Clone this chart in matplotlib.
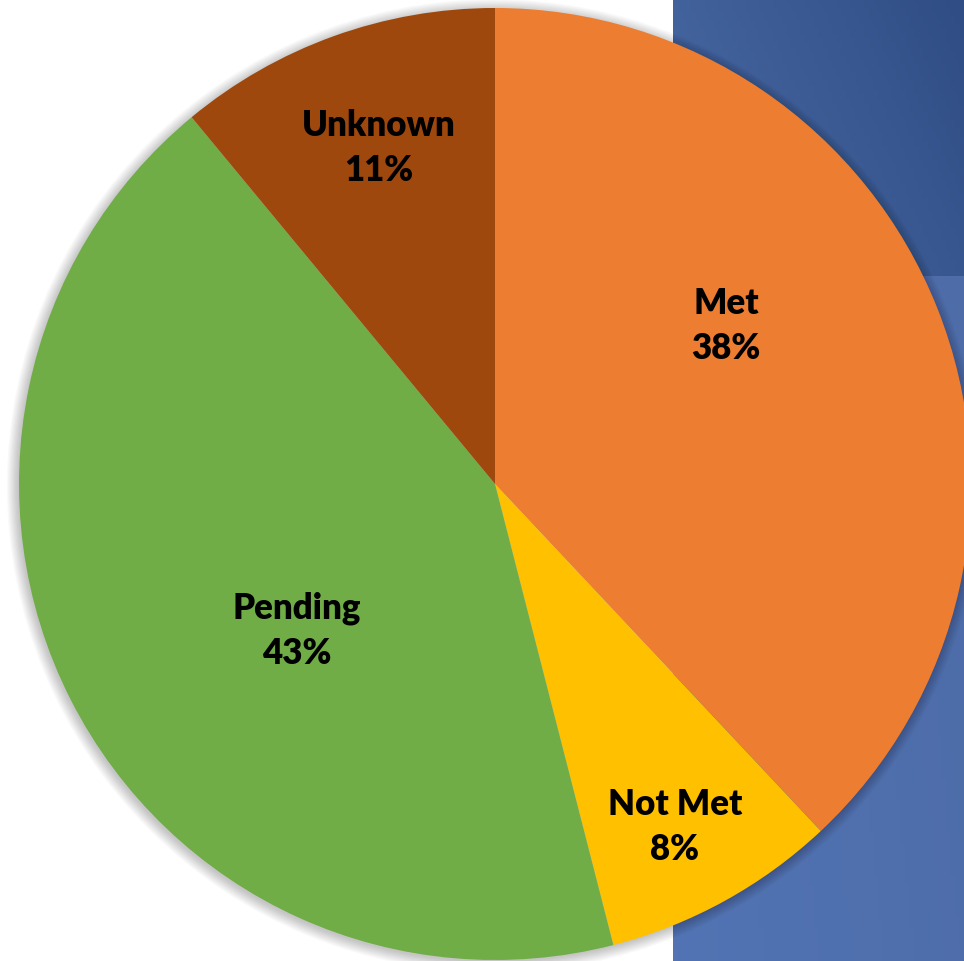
import numpy as np
import matplotlib.pyplot as plt
from matplotlib.patches import Circle

labels = ['Met', 'Not Met', 'Pending', 'Unknown']
shares = [38, 8, 43, 11]
colors = ['#ED7D31', '#FFC000', '#70AD47', '#9E480E']

# label spots (fraction of radius, x/y)
label_pos = [(0.485, 0.334), (0.378, -0.718), (-0.416, -0.307), (-0.244, 0.708)]

W, H = 964, 962
cx, cy, R = 495, 485, 476

fig = plt.figure(figsize=(W / 100, H / 100), dpi=100)
ax = fig.add_axes([0, 0, 1, 1])
ax.set_xlim(-cx / R, (W - cx) / R)
ax.set_ylim(-(H - cy) / R, cy / R)
ax.set_aspect('equal')
ax.axis('off')

# blue background blocks on the right
x0 = (673 - cx) / R
xr = (W - cx) / R
ytop = cy / R
ysplit = (cy - 277) / R
ybot = -(H - cy) / R
gx = np.linspace(0, 1, 64)
gy = np.linspace(0, 1, 64)
GX, GY = np.meshgrid(gx, gy)
top_c0 = np.array([0x4a, 0x6b, 0xa6]) / 255
top_c1 = np.array([0x30, 0x4d, 0x85]) / 255
t = np.clip(0.7 * GX + 0.3 * (1 - GY), 0, 1)[..., None]
ax.imshow(top_c0 * (1 - t) + top_c1 * t, extent=[x0, xr, ysplit, ytop],
          origin='upper', zorder=0, aspect='auto')
bot_c0 = np.array([0x52, 0x74, 0xb4]) / 255
bot_c1 = np.array([0x4d, 0x6c, 0xa8]) / 255
t2 = np.clip(0.8 * GX + 0.2 * GY, 0, 1)[..., None]
ax.imshow(bot_c0 * (1 - t2) + bot_c1 * t2, extent=[x0, xr, ybot, ysplit],
          origin='lower', zorder=0, aspect='auto')

# soft shadow behind the pie
for k in range(10):
    ax.add_patch(Circle((-0.003, -0.004), 1 + 0.0025 * k, color='black',
                        alpha=0.022, lw=0, zorder=1))

wedges, _ = ax.pie(shares, colors=colors, startangle=90, counterclock=False,
                   radius=1, wedgeprops=dict(linewidth=0, zorder=2))
for w in wedges:
    w.set_zorder(2)

for lab, val, (px, py) in zip(labels, shares, label_pos):
    ax.text(px, py, f'{lab}\n{val}%', ha='center', va='center',
            fontsize=25, fontweight='heavy', family='Lato',
            linespacing=1.45, color='black', zorder=3)

ax.set_xlim(-cx / R, (W - cx) / R)
ax.set_ylim(-(H - cy) / R, cy / R)
fig.savefig('out.png', dpi=100)
